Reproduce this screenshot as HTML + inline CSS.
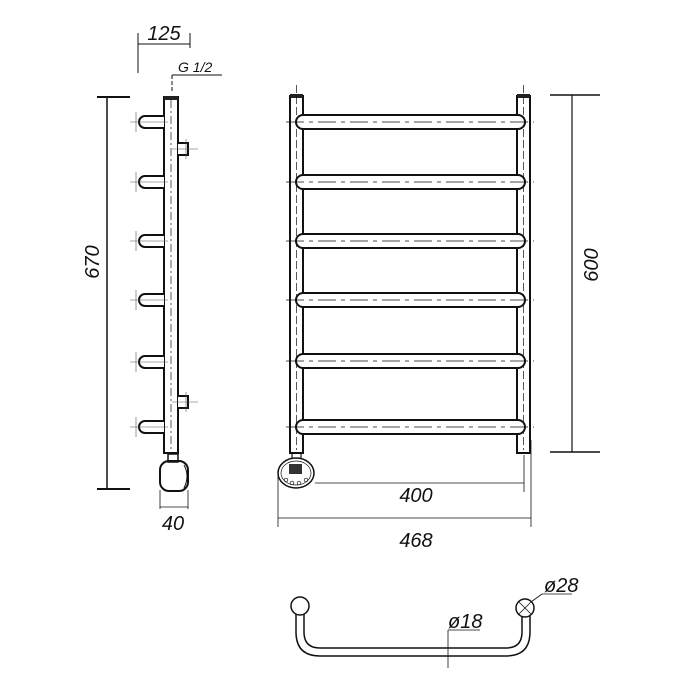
<!DOCTYPE html>
<html><head><style>body{margin:0;background:#fff}svg{display:block}text{font-family:"Liberation Sans",sans-serif;font-style:italic;fill:#111}</style></head><body>
<svg width="700" height="700" viewBox="0 0 700 700" xmlns="http://www.w3.org/2000/svg">
<g fill="none" stroke="#111" stroke-width="1">
<!-- SIDE VIEW -->
<line x1="97" y1="97" x2="130" y2="97" stroke-width="2"/>
<line x1="97" y1="489" x2="130" y2="489" stroke-width="2"/>
<line x1="107" y1="97" x2="107" y2="489" stroke-width="1.5"/>
<line x1="138" y1="33" x2="138" y2="73"/>
<line x1="190" y1="33" x2="190" y2="48"/>
<line x1="138" y1="44" x2="190" y2="44"/>
<line x1="172" y1="75" x2="222" y2="75"/>
<line x1="172" y1="75" x2="172" y2="92" stroke-dasharray="4,2"/>
<rect x="164" y="97" width="14" height="356" fill="#fff" stroke-width="2"/>
<rect x="164" y="96" width="14" height="4" fill="#222" stroke="none"/>
<line x1="171" y1="100" x2="171" y2="450" stroke-dasharray="8,3,2,3" stroke-width="0.7"/>
<g stroke-width="2" fill="#fff">
<path d="M164 116 H145 a6 6 0 0 0 0 12 H164"/>
<path d="M164 176 H145 a6 6 0 0 0 0 12 H164"/>
<path d="M164 235 H145 a6 6 0 0 0 0 12 H164"/>
<path d="M164 294 H145 a6 6 0 0 0 0 12 H164"/>
<path d="M164 356 H145 a6 6 0 0 0 0 12 H164"/>
<path d="M164 421 H145 a6 6 0 0 0 0 12 H164"/>
<path d="M178 143 H188 V155 H178" />
<path d="M178 396 H188 V408 H178" />
</g>
<g stroke-width="0.6" stroke="#555">
<path d="M130 122 H168 M136 112 V132"/><path d="M130 182 H168 M136 172 V192"/>
<path d="M130 241 H168 M136 231 V251"/><path d="M130 300 H168 M136 290 V310"/>
<path d="M130 362 H168 M136 352 V372"/><path d="M130 427 H168 M136 417 V437"/>
<path d="M172 149 H198 M186 139 V159"/><path d="M172 402 H198 M186 392 V412"/>
</g>
<rect x="168" y="454" width="10" height="8" stroke-width="1.5"/>
<rect x="160" y="461" width="28" height="30" rx="9" stroke-width="2"/>
<path d="M184 465 Q190 476 184 488" stroke-width="1"/>
<line x1="160" y1="490" x2="160" y2="509" stroke-width="0.8"/>
<line x1="188" y1="490" x2="188" y2="509" stroke-width="0.8"/>
<line x1="160" y1="507" x2="188" y2="507" stroke-width="0.8"/>
<!-- FRONT VIEW -->
<rect x="290" y="96" width="13" height="357" fill="#fff" stroke-width="2"/>
<rect x="517" y="96" width="13" height="357" fill="#fff" stroke-width="2"/>
<rect x="290" y="94" width="13" height="4" fill="#222" stroke="none"/>
<rect x="517" y="94" width="13" height="4" fill="#222" stroke="none"/>
<line x1="296.5" y1="85" x2="296.5" y2="450" stroke-dasharray="8,3" stroke-width="0.7"/>
<line x1="523.5" y1="85" x2="523.5" y2="450" stroke-dasharray="8,3" stroke-width="0.7"/>
<g stroke-width="2" fill="#fff">
<rect x="296" y="115" width="229" height="14" rx="7"/>
<rect x="296" y="175" width="229" height="14" rx="7"/>
<rect x="296" y="234" width="229" height="14" rx="7"/>
<rect x="296" y="293" width="229" height="14" rx="7"/>
<rect x="296" y="354" width="229" height="14" rx="7"/>
<rect x="296" y="420" width="229" height="14" rx="7"/>
</g>
<g stroke-width="0.7" stroke-dasharray="18,5,4,5">
<line x1="286" y1="122" x2="534" y2="122"/><line x1="286" y1="182" x2="534" y2="182"/>
<line x1="286" y1="241" x2="534" y2="241"/><line x1="286" y1="300" x2="534" y2="300"/>
<line x1="286" y1="361" x2="534" y2="361"/><line x1="286" y1="427" x2="534" y2="427"/>
</g>
<rect x="292" y="453" width="9" height="7" stroke-width="1.2"/>
<ellipse cx="296" cy="473" rx="18" ry="15" fill="#fff" stroke-width="1.5"/>
<ellipse cx="296" cy="473" rx="15" ry="12" stroke-width="0.7"/>
<rect x="289" y="464" width="13" height="10" fill="#333" stroke="none"/>
<circle cx="286" cy="480" r="1.8" stroke-width="0.7"/><circle cx="292" cy="483" r="1.8" stroke-width="0.7"/>
<circle cx="299" cy="483" r="1.8" stroke-width="0.7"/><circle cx="306" cy="480" r="1.8" stroke-width="0.7"/>
<line x1="550" y1="95" x2="600" y2="95" stroke-width="1.5"/>
<line x1="550" y1="452" x2="600" y2="452" stroke-width="1.5"/>
<line x1="572" y1="95" x2="572" y2="452" stroke-width="1.2"/>
<line x1="315" y1="483" x2="524" y2="483" stroke-width="0.8"/>
<line x1="524" y1="455" x2="524" y2="492" stroke-width="0.8"/>
<line x1="278" y1="518" x2="531" y2="518" stroke-width="0.8"/>
<line x1="278" y1="475" x2="278" y2="527" stroke-width="0.8"/>
<line x1="531" y1="440" x2="531" y2="527" stroke-width="0.8"/>
<!-- BOTTOM U -->
<path d="M296 612 V632 Q296 656 320 656 H506 Q530 656 530 632 V614" stroke-width="1.5"/>
<path d="M304 612 V632 Q304 648 320 648 H506 Q522 648 522 632 V614" stroke-width="1.5"/>
<circle cx="300" cy="606" r="9" fill="#fff" stroke-width="1.5"/>
<circle cx="525" cy="608" r="9" fill="#fff" stroke-width="1.5"/>
<path d="M519 602 L531 614 M531 602 L519 614" stroke-width="0.8"/>
<line x1="531" y1="602" x2="542" y2="594" stroke-width="0.8"/>
<line x1="542" y1="594" x2="572" y2="594" stroke-width="0.8"/>
<line x1="448" y1="630" x2="448" y2="668" stroke-width="0.8"/>
<line x1="448" y1="630" x2="480" y2="630" stroke-width="0.8"/>
</g>
<text x="164" y="40" font-size="20" text-anchor="middle">125</text>
<text x="178" y="72" font-size="14">G 1/2</text>
<text x="99" y="262" font-size="20" text-anchor="middle" transform="rotate(-90 99 262)">670</text>
<text x="173" y="530" font-size="20" text-anchor="middle">40</text>
<text x="598" y="265" font-size="20" text-anchor="middle" transform="rotate(-90 598 265)">600</text>
<text x="416" y="502" font-size="20" text-anchor="middle">400</text>
<text x="416" y="547" font-size="20" text-anchor="middle">468</text>
<text x="544" y="592" font-size="20">ø28</text>
<text x="448" y="628" font-size="20">ø18</text>
</svg>
</body></html>
